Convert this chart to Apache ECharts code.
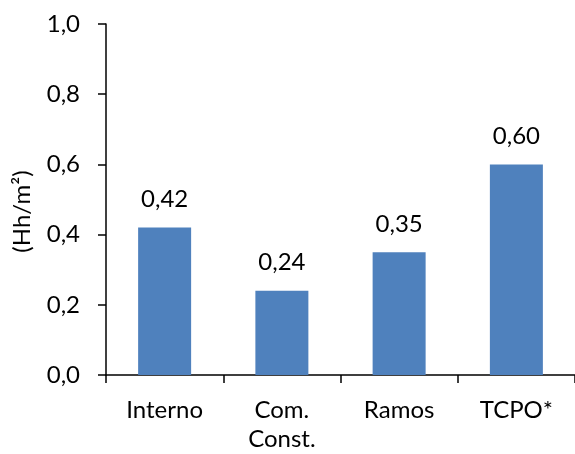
<!DOCTYPE html>
<html><head><meta charset="utf-8">
<script src="https://cdn.jsdelivr.net/npm/echarts@6/dist/echarts.min.js"></script>
<style>html,body{margin:0;padding:0;background:#fff}#c{width:575px;height:454px}</style>
</head><body><div id="c"></div>
<script>
const categories = ['Interno', 'Com.\nConst.', 'Ramos', 'TCPO*'];
const values = [0.42, 0.24, 0.35, 0.60];
const yTicks = [0, 0.2, 0.4, 0.6, 0.8, 1.0];
const yName = '(Hh/m²)';
const FONT = 'Lato';
const FS = 24;
const chart = echarts.init(document.getElementById('c'));
chart.setOption({
  animation: false,
  backgroundColor: '#fff',
  grid: {left: 106, top: 24, width: 471, height: 351, containLabel: false},
  xAxis: {
    type: 'category', data: categories,
    axisLine: {lineStyle: {color: '#000', width: 1.5}},
    axisTick: {show: true, length: 8, lineStyle: {color: '#000', width: 1.5}, alignWithLabel: false},
    axisLabel: {color: '#000', fontFamily: FONT, fontSize: FS, margin: 21, lineHeight: 29}
  },
  yAxis: {
    type: 'value', min: 0, max: 1, interval: 0.2,
    name: yName, nameLocation: 'middle', nameGap: 72, nameRotate: 90,
    nameTextStyle: {color: '#000', fontFamily: FONT, fontSize: FS, padding: [0, 24, 0, 0]},
    splitLine: {show: false},
    axisLine: {show: true, lineStyle: {color: '#000', width: 1.5}},
    axisTick: {show: true, length: 8, lineStyle: {color: '#000', width: 1.5}},
    axisLabel: {color: '#000', fontFamily: FONT, fontSize: FS, margin: 26,
      formatter: v => v.toFixed(1).replace('.', ',')}
  },
  series: [{
    type: 'bar', data: values, barWidth: 53,
    itemStyle: {color: '#4F81BD'},
    label: {show: true, position: 'top', distance: 16, color: '#000', fontFamily: FONT, fontSize: FS,
      formatter: p => p.value.toFixed(2).replace('.', ',')}
  }]
});
</script></body></html>
